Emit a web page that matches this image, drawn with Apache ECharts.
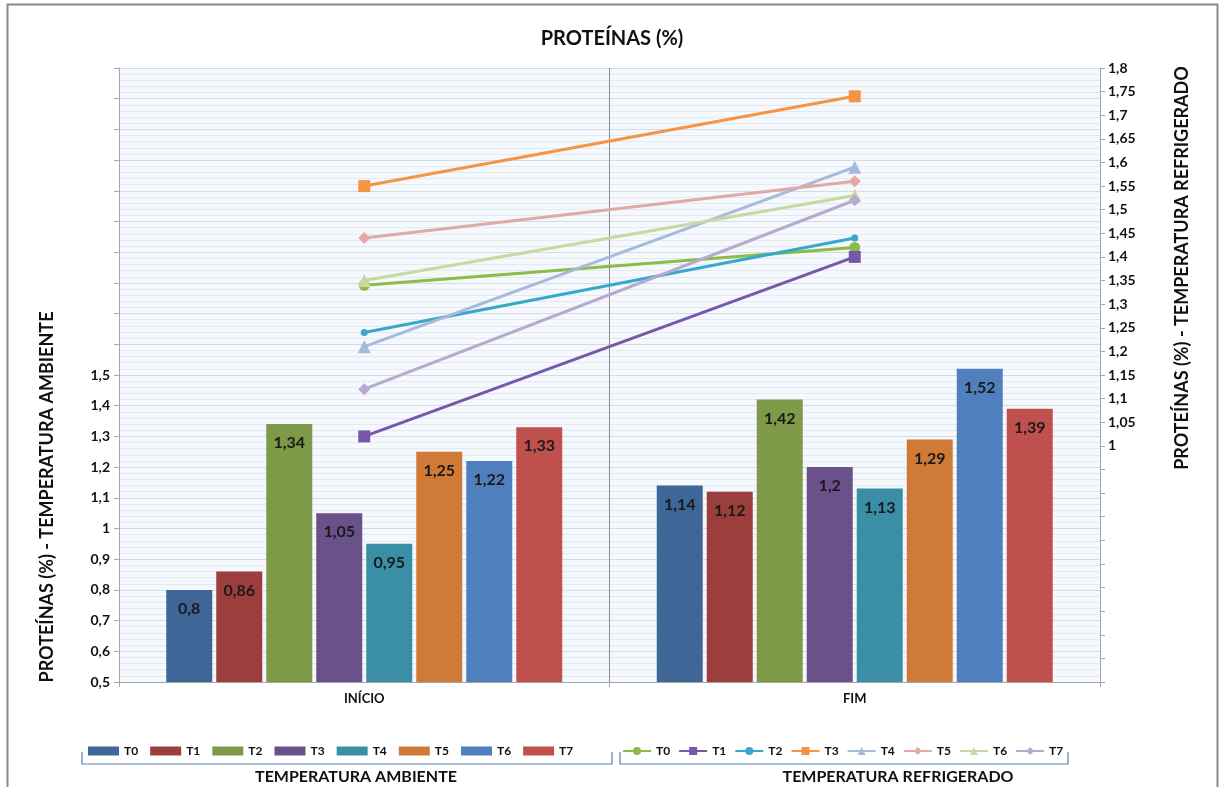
<!DOCTYPE html>
<html>
<head>
<meta charset="utf-8">
<script src="https://cdn.jsdelivr.net/npm/echarts@6/dist/echarts.min.js"></script>
<style>
  html, body { margin: 0; padding: 0; background: #ffffff; }
  #chart { width: 1224px; height: 787px; }
</style>
</head>
<body>
<div id="chart"></div>
<script>
// Períodos e tratamentos
const categories = ['INÍCIO', 'FIM'];
const treatments = ['T0', 'T1', 'T2', 'T3', 'T4', 'T5', 'T6', 'T7'];

// Proteínas (%) – temperatura ambiente (barras, eixo esquerdo)
const ambienteInicio = [0.8, 0.86, 1.34, 1.05, 0.95, 1.25, 1.22, 1.33];
const ambienteFim    = [1.14, 1.12, 1.42, 1.2, 1.13, 1.29, 1.52, 1.39];

// Proteínas (%) – temperatura refrigerado (linhas, eixo direito)
const refrigeradoInicio = [1.34, 1.02, 1.24, 1.55, 1.21, 1.44, 1.35, 1.12];
const refrigeradoFim    = [1.42, 1.40, 1.44, 1.74, 1.59, 1.56, 1.53, 1.52];

// Escalas dos eixos
const leftAxisMin = 0.5, leftAxisMax = 2.5, leftAxisStep = 0.1, leftLabelMax = 1.5;
const rightAxisMin = 0.5, rightAxisMax = 1.8, rightAxisStep = 0.05, rightLabelMin = 1;

const barColors  = ['#3e6696', '#9c3e3b', '#7e9a48', '#6a518a', '#3a8ea6', '#d07a38', '#4f80bd', '#c0504d'];
const lineColors = ['#8cbb48', '#7758a6', '#36a9c9', '#f69445', '#a6badc', '#e2a8a6', '#c6da9f', '#b8a9d0'];
const lineSymbols = ['circle', 'rect', 'circle', 'rect', 'triangle', 'diamond', 'triangle', 'diamond'];
const lineSymbolSizes = [11, 12, 7, 12, 13, 12, 13, 12];

const FONT = 'Lato, "Open Sans", sans-serif';
const fmt = v => String(Number(v.toFixed(2))).replace('.', ',');

const barSeries = treatments.map((t, i) => ({
  name: 'A ' + t,
  type: 'bar',
  yAxisIndex: 0,
  barWidth: 46,
  barGap: '8.7%',
  itemStyle: { color: barColors[i] },
  label: {
    show: true,
    position: 'insideTop',
    distance: 11,
    formatter: p => fmt(p.value),
    fontFamily: FONT,
    fontWeight: 'bold',
    fontSize: 16,
    color: '#1a1a1a'
  },
  data: [ambienteInicio[i], ambienteFim[i]]
}));

const lineSeries = treatments.map((t, i) => ({
  name: 'R ' + t,
  type: 'line',
  yAxisIndex: 1,
  symbol: lineSymbols[i],
  symbolSize: lineSymbolSizes[i],
  lineStyle: { color: lineColors[i], width: 3 },
  itemStyle: { color: lineColors[i] },
  z: 5,
  data: [refrigeradoInicio[i], refrigeradoFim[i]]
}));

const legendText = {
  fontFamily: FONT, fontWeight: 'bold', fontSize: 12, color: '#111'
};

const chart = echarts.init(document.getElementById('chart'), null, { renderer: 'canvas' });
chart.setOption({
  animation: false,
  backgroundColor: '#ffffff',
  title: {
    text: 'PROTEÍNAS (%)',
    left: 'center',
    top: 24,
    textStyle: { fontFamily: FONT, fontWeight: 'bold', fontSize: 20, color: '#111' }
  },
  grid: {
    left: 119, right: 124, top: 68, bottom: 105,
    show: true, backgroundColor: '#f5f8fc', borderWidth: 0
  },
  legend: [
    {
      data: treatments.map(t => 'A ' + t),
      formatter: n => n.split(' ')[1],
      left: 83, top: 740,
      itemWidth: 31, itemHeight: 9, itemGap: 12,
      icon: 'rect',
      textStyle: legendText
    },
    {
      data: treatments.map(t => 'R ' + t),
      formatter: n => n.split(' ')[1],
      left: 617, top: 740,
      itemWidth: 28, itemHeight: 10, itemGap: 8,
      textStyle: legendText
    }
  ],
  xAxis: {
    type: 'category',
    data: categories,
    boundaryGap: true,
    axisLine: { lineStyle: { color: '#a6a6a6', width: 1 } },
    axisTick: { show: true, length: 5, lineStyle: { color: '#a6a6a6' } },
    axisLabel: { fontFamily: FONT, fontWeight: 'bold', fontSize: 13, color: '#111', margin: 10 },
    splitLine: { show: true, lineStyle: { color: '#8c8c8c', width: 1 } }
  },
  yAxis: [
    {
      type: 'value',
      min: leftAxisMin, max: leftAxisMax, interval: leftAxisStep,
      position: 'left',
      axisLine: { show: true, lineStyle: { color: '#a6a6a6' } },
      axisTick: { show: true, length: 5, lineStyle: { color: '#a6a6a6' } },
      axisLabel: {
        formatter: v => (v <= leftLabelMax + 1e-9 ? fmt(v) : ''),
        fontFamily: FONT, fontWeight: 'bold', fontSize: 14, color: '#111', margin: 9
      },
      splitLine: { show: true, lineStyle: { color: '#d3dbe6', width: 1 } },
      minorTick: { show: false, splitNumber: 5 },
      minorSplitLine: { show: true, lineStyle: { color: '#e3e9f1', width: 1 } }
    },
    {
      type: 'value',
      min: rightAxisMin, max: rightAxisMax, interval: rightAxisStep,
      position: 'right',
      axisLine: { show: true, lineStyle: { color: '#a6a6a6' } },
      axisTick: { show: true, length: 5, lineStyle: { color: '#a6a6a6' } },
      axisLabel: {
        formatter: v => (v >= rightLabelMin - 1e-9 ? fmt(v) : ''),
        fontFamily: FONT, fontWeight: 'bold', fontSize: 14, color: '#111', margin: 8
      },
      splitLine: { show: false }
    }
  ],
  graphic: [
    {
      type: 'rect', silent: true,
      shape: { x: 7.5, y: 4.5, width: 1210, height: 800 },
      style: { fill: 'none', stroke: '#8a8a8a', lineWidth: 2 }
    },
    {
      type: 'text', silent: true,
      x: 47, y: 497, rotation: Math.PI / 2,
      style: {
        text: 'PROTEÍNAS (%) - TEMPERATURA AMBIENTE',
        fontFamily: FONT, fontWeight: 'bold', fontSize: 18, fill: '#111',
        align: 'center', verticalAlign: 'middle'
      }
    },
    {
      type: 'text', silent: true,
      x: 1182, y: 268, rotation: Math.PI / 2,
      style: {
        text: 'PROTEÍNAS (%) - TEMPERATURA REFRIGERADO',
        fontFamily: FONT, fontWeight: 'bold', fontSize: 18, fill: '#111',
        align: 'center', verticalAlign: 'middle'
      }
    },
    {
      type: 'polyline', silent: true,
      shape: { points: [[82, 752], [82, 764], [612, 764], [612, 752]] },
      style: { stroke: '#5a82b8', lineWidth: 1.2, fill: 'none' }
    },
    {
      type: 'polyline', silent: true,
      shape: { points: [[620, 752], [620, 764], [1068, 764], [1068, 752]] },
      style: { stroke: '#5a82b8', lineWidth: 1.2, fill: 'none' }
    },
    {
      type: 'text', silent: true,
      x: 356, y: 777,
      style: {
        text: 'TEMPERATURA AMBIENTE',
        fontFamily: FONT, fontWeight: 'bold', fontSize: 16, fill: '#111',
        align: 'center', verticalAlign: 'middle'
      }
    },
    {
      type: 'text', silent: true,
      x: 898, y: 777,
      style: {
        text: 'TEMPERATURA REFRIGERADO',
        fontFamily: FONT, fontWeight: 'bold', fontSize: 16, fill: '#111',
        align: 'center', verticalAlign: 'middle'
      }
    }
  ],
  series: barSeries.concat(lineSeries)
});
</script>
</body>
</html>
